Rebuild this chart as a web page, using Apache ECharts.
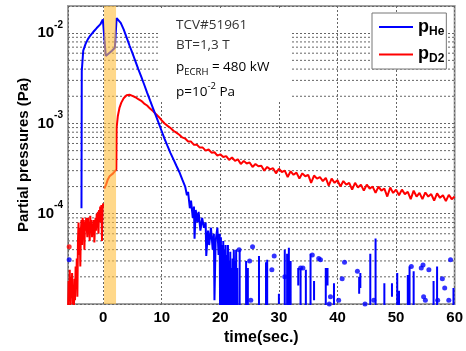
<!DOCTYPE html>
<html>
<head>
<meta charset="utf-8">
<script src="https://cdn.jsdelivr.net/npm/echarts@6/dist/echarts.min.js"></script>
<style>html,body{margin:0;padding:0;background:#fff}#c{width:466px;height:351px}</style>
</head>
<body>
<div id="c"></div>
<script>
// ---------- data ----------
const xTickLabels = [0, 10, 20, 30, 40, 50, 60];
const yTickExps = [-2, -3, -4];
const band = [0.15, 2.2];

// He partial pressure (main trace)
const heMain = [[-3.7,1.15e-4],[-3.65,3.8e-3],[-3.4,6.4e-3],[-3.0,7.6e-3],[-2.6,8.6e-3],[-2.3,9.2e-3],[-1.7,1.03e-2],[-1.1,1.14e-2],[-0.5,1.25e-2],[-0.05,1.42e-2],
[0.45,5.6e-3],[1.0,6.0e-3],[1.5,6.4e-3],[2.0,6.9e-3],[2.25,7.2e-3],[2.3,1.47e-2],[2.45,1.5e-2],[3.0,1.3e-2],[3.5,1.1e-2],[4.0,9.0e-3],[4.5,7.3e-3],[5.0,6.0e-3],[5.5,4.9e-3],[6.0,4.0e-3],[6.5,3.3e-3],[7.0,2.7e-3],[7.5,2.2e-3],[8.0,1.8e-3],[8.5,1.48e-3],[9.0,1.22e-3],[9.5,1.0e-3],[10.0,8.2e-4],[10.5,6.7e-4],[11.0,5.6e-4],[11.5,4.7e-4],[12.0,4.0e-4],[12.5,3.4e-4],[13.0,2.9e-4],[13.5,2.4e-4],
[14.0,2.0e-4],[14.3,1.6e-4],[14.5,1.75e-4],[14.8,1.15e-4],[15.0,1.4e-4],[15.3,9e-5],[15.5,1.2e-4],[15.6,5.3e-5],[15.8,1.1e-4],[16.1,8e-5],[16.3,1.05e-4],[16.6,6.5e-5],[16.9,9e-5],[17.2,7e-5],[17.5,8e-5],[17.6,3.4e-5],[17.9,6.5e-5],[18.1,4.5e-5],[18.4,7e-5],[18.7,4e-5],[18.9,6e-5],[19.0,1.1e-5],[19.2,5e-5],[19.5,7e-5],[19.7,3.5e-5],[19.9,6e-5],[20.0,2e-6],
[20.1,5.5e-5],[20.2,2e-6],[20.3,4.5e-5],[20.4,2e-6],[20.5,5e-5],[20.6,1.5e-5],[20.7,4e-5],[20.8,2e-6],[20.9,4.5e-5],[21.0,2e-6],[21.1,3.5e-5],[21.2,2e-6],[21.3,4.5e-5],[21.4,1.2e-5],[21.5,3e-5],[21.6,2e-6],[21.7,3.8e-5],[21.8,2e-6],[21.9,2.5e-5],[22.0,2e-6],[22.1,3.2e-5],[22.2,2e-6],[22.3,4e-5],[22.4,1.5e-5],[22.5,3e-5],[22.6,2e-6],[22.7,4e-5],[22.8,2e-6],[22.9,2.5e-5],[23.0,2e-6]];

// He isolated spikes: [time, top, bottom] (bottom below 1e-5 = off scale)
const heSpikes = [[23.3,4.0e-5,2e-6],[24.4,3.0e-5,2e-6],[24.7,2.5e-5,2e-6],[26.6,3.4e-5,2e-6],[27.8,2.9e-5,2e-6],[28.0,3.1e-5,2e-6],[30.0,1.3e-5,1.0e-5],
[31.0,4.0e-5,2e-6],[31.4,3.6e-5,2e-6],[31.7,4.2e-5,2e-6],[32.0,3.0e-5,2e-6],[33.3,2.5e-5,1.6e-5],[33.7,2.5e-5,2e-6],[34.6,2.4e-5,2e-6],[35.4,3.6e-5,2e-6],[36.0,1.8e-5,1.1e-5],
[38.0,2.5e-5,2e-6],[38.3,2.5e-5,1.6e-5],[39.4,1.7e-5,2e-6],[43.7,2.0e-5,1.3e-5],[43.9,2.2e-5,1.5e-5],[45.6,3.6e-5,2e-6],[46.5,5.3e-5,2e-6],[48.0,1.7e-5,2e-6],[49.3,1.7e-5,1.2e-5],
[50.2,2.2e-5,2e-6],[50.5,1.4e-5,2e-6],[52.0,2.1e-5,2e-6],[52.3,2.6e-5,2e-6],[53.0,2.3e-5,2e-6],[56.4,1.8e-5,2e-6],[57.0,2.6e-5,2e-6],[59.8,1.5e-5,2e-6]];

// He isolated samples (dots)
const heDots = [[-5.8,3.1e-5],[23.2,4.0e-5],[25.0,3.0e-5],[25.5,4.3e-5],[25.2,1.1e-5],[28.8,2.4e-5],[29.2,3.4e-5],[31.0,2.0e-5],[33.7,2.5e-5],[34.1,2.5e-5],[35.7,3.5e-5],[37.1,3.1e-5],[36.8,3.2e-5],[38.8,1.2e-5],[38.6,1.0e-5],[40.2,1.1e-5],[41.2,2.9e-5],[40.8,1.9e-5],[43.4,2.3e-5],[44.7,1.0e-5],[46.2,1.1e-5],[52.6,2.6e-5],[54.3,2.5e-5],[54.6,2.7e-5],[54.7,1.2e-5],[55.0,1.1e-5],[55.6,2.4e-5],[57.1,1.1e-5],[57.9,1.9e-5],[58.3,1.5e-5],[59.3,3.1e-5],[59.0,1.1e-5]];

// D2 partial pressure, before the ECRH pulse
const d2Pre = [[-6.0,8e-6],[-5.9,1.8e-5],[-5.8,1.2e-5],[-5.7,2.4e-5],[-5.6,9e-6],[-5.5,2.0e-5],[-5.4,1.3e-5],[-5.3,2.2e-5],[-5.2,1.0e-5],[-5.1,1.6e-5],[-5.0,8e-6],[-4.9,1.9e-5],[-4.8,1.1e-5],[-4.7,2.6e-5],[-4.6,1.5e-5],[-4.5,3.2e-5],[-4.4,1.2e-5],[-4.3,5.0e-5],[-4.2,8.0e-5],[-4.1,3.5e-5],[-4.0,7.0e-5],[-3.9,2.6e-5],[-3.8,6.5e-5],[-3.7,8.5e-5],[-3.6,4.5e-5],[-3.5,9.0e-5],[-3.4,6.0e-5],[-3.3,8.5e-5],[-3.2,4.0e-5],[-3.1,8.0e-5],[-3.0,6.5e-5],[-2.9,9.0e-5],[-2.8,7.0e-5],[-2.7,5.5e-5],[-2.6,9.0e-5],[-2.5,6.0e-5],[-2.4,8.0e-5],[-2.3,5.0e-5],[-2.2,9.5e-5],[-2.1,6.5e-5],[-2.0,8.5e-5],[-1.9,5.5e-5],[-1.8,7.5e-5],[-1.7,6.0e-5],[-1.6,8.5e-5],[-1.5,4.8e-5],[-1.4,7.0e-5],[-1.3,9.0e-5],[-1.2,6.5e-5],[-1.1,1.0e-4],[-1.0,7.5e-5],[-0.9,1.05e-4],[-0.8,6.0e-5],[-0.7,1.1e-4],[-0.6,8.0e-5],[-0.5,1.2e-4],[-0.4,9.0e-5],[-0.3,1.25e-4],[-0.2,5.0e-5],[-0.1,1.1e-4],[0.0,1.3e-4]];
// D2 during and after the pulse
const d2Post = [[0.2,1.9e-4],[0.5,2.1e-4],[0.8,2.4e-4],[1.1,2.6e-4],[1.4,2.7e-4],[1.7,2.8e-4],[2.0,2.9e-4],[2.25,3.1e-4],[2.3,9e-4],[2.5,1.2e-3],[2.8,1.5e-3],[3.1,1.7e-3],[3.5,1.9e-3],[4.0,2.05e-3],[4.5,2.08e-3],
[5.0,2.02e-3],[5.5,1.95e-3],[6.0,1.86e-3],[6.5,1.78e-3],[7.0,1.66e-3],[7.5,1.58e-3],[8.0,1.46e-3],[8.5,1.37e-3],[9.0,1.27e-3],[9.5,1.18e-3],[10.0,1.08e-3],[10.5,1.0e-3],[11.0,9.4e-4],[11.5,8.9e-4],[12.0,8.3e-4],[12.5,7.9e-4],[13.0,7.5e-4],[13.5,7.0e-4],[14.0,6.8e-4],[14.5,6.3e-4],[15.0,6.3e-4],[15.5,5.8e-4],[16.0,5.8e-4],[16.5,5.4e-4],[17.0,5.4e-4],[17.5,5.0e-4],[18.0,5.15e-4],[18.5,4.75e-4],[19.0,4.8e-4],[19.5,4.4e-4],[20.0,4.55e-4],[20.5,4.25e-4],[21.0,4.35e-4],[21.5,3.95e-4],[22.0,4.2e-4],[22.5,3.85e-4],[23.0,4.0e-4],[23.5,3.55e-4],[24.0,3.85e-4],[24.5,3.6e-4],[25.0,3.7e-4],[25.5,3.3e-4],[26.0,3.55e-4],[26.5,3.35e-4],[27.0,3.4e-4],[27.5,3.0e-4],[28.0,3.3e-4],[28.5,3.1e-4],[29.0,3.2e-4],[29.5,2.8e-4],[30.0,3.15e-4],[30.5,2.9e-4],[31.0,3.0e-4],[31.5,2.55e-4],[32.0,2.95e-4],[32.5,2.7e-4],[33.0,2.85e-4],[33.5,2.45e-4],[34.0,2.8e-4],[34.5,2.6e-4],[35.0,2.7e-4],[35.5,2.2e-4],[36.0,2.65e-4],[36.5,2.45e-4],[37.0,2.55e-4],[37.5,2.3e-4],[38.0,2.5e-4],[38.5,2.05e-4],[39.0,2.45e-4],[39.5,2.2e-4],[40.0,2.35e-4],[40.5,2.0e-4],[41.0,2.3e-4],[41.5,2.1e-4],[42.0,2.2e-4],[42.5,1.85e-4],[43.0,2.2e-4],[43.5,1.95e-4],[44.0,2.1e-4],[44.5,1.8e-4],[45.0,2.1e-4],[45.5,1.9e-4],[46.0,2.0e-4],[46.5,1.7e-4],[47.0,2.0e-4],[47.5,1.8e-4],[48.0,1.9e-4],[48.5,1.55e-4],[49.0,1.95e-4],[49.5,1.7e-4],[50.0,1.85e-4],[50.5,1.6e-4],[51.0,1.85e-4],[51.5,1.65e-4],[52.0,1.75e-4],[52.5,1.45e-4],[53.0,1.8e-4],[53.5,1.55e-4],[54.0,1.7e-4],[54.5,1.45e-4],[55.0,1.72e-4],[55.5,1.55e-4],[56.0,1.65e-4],[56.5,1.4e-4],[57.0,1.68e-4],[57.5,1.5e-4],[58.0,1.6e-4],[58.5,1.38e-4],[59.0,1.62e-4],[59.5,1.45e-4],[60.0,1.55e-4]];
const d2Dots = [[-5.8,4.3e-5]];

// minor grid levels of the log axis
const minorDecades = [1e-5, 1e-4, 1e-3];
const minorMultipliers = [2, 3, 4, 5, 6, 7, 8, 9];

// ---------- build ----------
const heSpikeData = [];
heSpikes.forEach(s => { heSpikeData.push([s[0], s[1]], [s[0], s[2]], ['-', '-']); });
const gridData = [];
minorDecades.forEach(d => minorMultipliers.forEach(m => {
  gridData.push([-6, d * m], [60, d * m], ['-', '-']);
}));

const BLUE = '#0000ff', RED = '#ff0000';
const chart = echarts.init(document.getElementById('c'), null, {renderer: 'canvas'});
const lineCommon = {type: 'line', showSymbol: false, symbol: 'none', animation: false, silent: true, clip: true, connectNulls: false, z: 3};
const gridStyle = {color: '#666', width: 1, type: [2, 2]};

chart.setOption({
  animation: false,
  backgroundColor: '#fff',
  grid: {left: 68, right: 10, top: 6, bottom: 42, show: true, borderColor: '#a0a0a0', borderWidth: 2, backgroundColor: 'transparent'},
  xAxis: {
    type: 'value', min: -6, max: 60,
    name: 'time(sec.)', nameLocation: 'middle', nameGap: 26, nameMoveOverlap: false,
    nameTextStyle: {fontFamily: 'Liberation Sans', fontWeight: 'bold', fontSize: 16, color: '#000'},
    axisLine: {show: false}, axisTick: {show: false},
    axisLabel: {margin: 6, fontFamily: 'Liberation Sans', fontWeight: 'bold', fontSize: 15, color: '#000',
      formatter: v => xTickLabels.indexOf(Math.round(v)) >= 0 && Math.abs(v - Math.round(v)) < 1e-6 ? String(Math.round(v)) : ''},
    splitLine: {show: true, lineStyle: gridStyle}
  },
  yAxis: {
    type: 'log', logBase: 10, min: 1e-5, max: 2e-2, interval: 1,
    name: 'Partial pressures (Pa)', nameLocation: 'middle', nameGap: 37, nameRotate: 90, nameMoveOverlap: false,
    nameTextStyle: {fontFamily: 'Liberation Sans', fontWeight: 'bold', fontSize: 15, color: '#000'},
    axisLine: {show: false}, axisTick: {show: false},
    axisLabel: {margin: 5, color: '#000',
      formatter: v => { const l = Math.log10(v), e = Math.round(l); return (Math.abs(l - e) < 1e-3 && yTickExps.indexOf(e) >= 0) ? '{b|10}{s|' + e + '}' : ''; },
      rich: {b: {fontFamily: 'Liberation Sans', fontWeight: 'bold', fontSize: 15, color: '#000'},
             s: {fontFamily: 'Liberation Sans', fontWeight: 'bold', fontSize: 10, color: '#000', padding: [0, 0, 16, 0]}}},
    splitLine: {show: true, lineStyle: gridStyle}
  },
  legend: {
    data: ['He', 'D2'], orient: 'vertical', left: 372, top: 13,
    icon: 'rect', itemWidth: 34, itemHeight: 2, itemGap: 8,
    padding: [5, 2, 4, 7], backgroundColor: '#fff', borderColor: '#777', borderWidth: 1, borderRadius: 0,
    formatter: n => '{p|p}{s|' + n + '}',
    textStyle: {rich: {p: {fontFamily: 'Liberation Sans', fontWeight: 'bold', fontSize: 18, color: '#000'},
                       s: {fontFamily: 'Liberation Sans', fontWeight: 'bold', fontSize: 12, color: '#000', padding: [9, 0, 0, 0]}}}
  },
  graphic: [
    {type: 'rect', silent: true, z: 1, shape: {x: 160, y: 10, width: 131, height: 92}, style: {fill: '#fff'}},
    {type: 'text', z: 6, x: 176, y: 25, style: {text: 'TCV#51961', fontFamily: 'Open Sans', fontSize: 13.5, fill: '#333', verticalAlign: 'middle'}},
    {type: 'text', z: 6, x: 176, y: 45, style: {text: 'BT=1,3 T', fontFamily: 'Open Sans', fontSize: 13.5, fill: '#333', verticalAlign: 'middle'}},
    {type: 'text', z: 6, x: 176, y: 67, style: {text: '{a|p}{b|ECRH}{a| = 480 kW}', verticalAlign: 'middle',
      rich: {a: {fontFamily: 'Open Sans', fontSize: 13.5, color: '#333'}, b: {fontFamily: 'Open Sans', fontSize: 9.5, color: '#333', padding: [10, 0, 0, 0]}}}},
    {type: 'text', z: 6, x: 176, y: 92, style: {text: '{a|p=10}{b|-2}{a| Pa}', verticalAlign: 'middle',
      rich: {a: {fontFamily: 'Open Sans', fontSize: 13.5, color: '#333'}, b: {fontFamily: 'Open Sans', fontSize: 9.5, color: '#333', padding: [0, 0, 12, 0]}}}}
  ],
  series: [
    Object.assign({}, lineCommon, {name: 'grid', data: gridData, z: 0, lineStyle: gridStyle}),
    Object.assign({}, lineCommon, {name: 'D2', data: d2Pre, lineStyle: {color: RED, width: 2}, itemStyle: {color: RED}}),
    Object.assign({}, lineCommon, {name: 'D2b', data: d2Post, lineStyle: {color: RED, width: 2}, itemStyle: {color: RED}}),
    Object.assign({}, lineCommon, {name: 'He', data: heMain, lineStyle: {color: BLUE, width: 2}, itemStyle: {color: BLUE}, z: 4}),
    Object.assign({}, lineCommon, {name: 'HeSpikes', data: heSpikeData, lineStyle: {color: BLUE, width: 2}, itemStyle: {color: BLUE}, z: 4}),
    {type: 'scatter', name: 'HeDots', data: heDots, symbolSize: 5, itemStyle: {color: BLUE}, silent: true, z: 4, animation: false},
    {type: 'scatter', name: 'D2Dots', data: d2Dots, symbolSize: 5, itemStyle: {color: RED}, silent: true, z: 4, animation: false},
    {type: 'line', name: 'band', data: [], silent: true, animation: false,
      markArea: {silent: true, z: 10, itemStyle: {color: 'rgba(255,190,60,0.6)'}, data: [[{xAxis: band[0]}, {xAxis: band[1]}]]}}
  ]
});
</script>
</body>
</html>
